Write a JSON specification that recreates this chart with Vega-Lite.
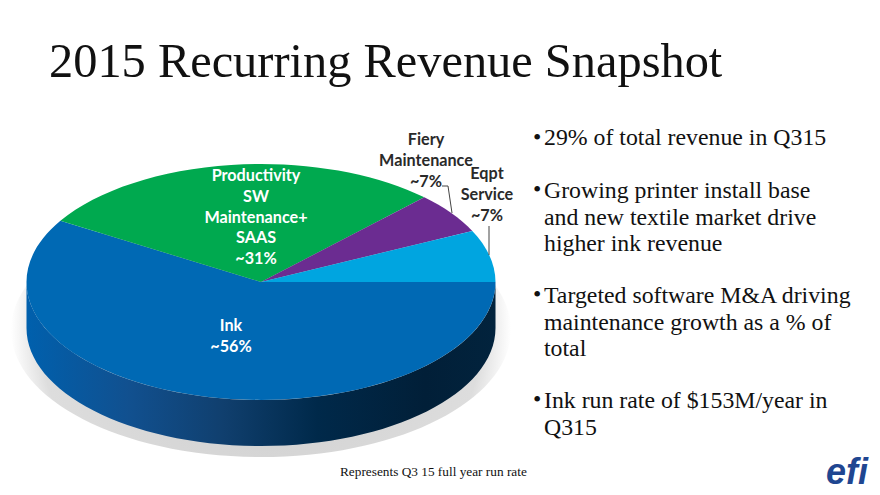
{
"$schema":"https://vega.github.io/schema/vega-lite/v6.json",
"width":880,"height":495,"padding":0,
"autosize":{"type":"none"},
"background":"white",
"config":{"view":{"stroke":null},"axis":{"disable":true},"legend":{"disable":true}},
"resolve":{"scale":{"shape":"independent","fill":"independent"}},
"layer":[
{"data":{"values":[{"part":"shadow"}]},
 "mark":{"type":"point","filled":true,"opacity":1,"size":4,"shape":"M-250,0 A250,127 0 1 1 250,0 A250,127 0 1 1 -250,0 Z","fill":{"gradient":"radial","x1":0.5,"y1":0.5,"r1":0,"x2":0.5,"y2":0.5,"r2":0.5,"stops":[{"offset":0,"color":"#cccccc"},{"offset":0.88,"color":"#dddddd"},{"offset":1,"color":"#ffffff"}]}},
 "encoding":{"x":{"datum":261,"type":"quantitative","scale":{"domain":[0,880],"range":[0,880],"nice":false},"axis":null},"y":{"datum":330,"type":"quantitative","scale":{"domain":[0,495],"range":[0,495],"nice":false},"axis":null}}},
{"data":{"values":[{"part":"side"}]},
 "mark":{"type":"point","filled":true,"opacity":1,"size":4,"shape":"M-234.5,0 A234.5,118 0 0 0 234.5,0 L234.5,46 A234.5,118 0 0 1 -234.5,46 Z","fill":{"gradient":"linear","x1":0,"y1":0,"x2":1,"y2":0,"stops":[{"offset":0,"color":"#0060ad"},{"offset":0.22,"color":"#11508f"},{"offset":0.42,"color":"#103f6e"},{"offset":0.62,"color":"#00294a"},{"offset":0.85,"color":"#011f38"},{"offset":1,"color":"#02233d"}]}},
 "encoding":{"x":{"datum":261,"type":"quantitative","axis":null},"y":{"datum":282,"type":"quantitative","axis":null}}},
{"data":{"values":[{"segment":"Ink","share":56},{"segment":"Productivity SW Maintenance+ SAAS","share":31},{"segment":"Fiery Maintenance","share":7},{"segment":"Eqpt Service","share":7}]},
 "mark":{"type":"point","filled":true,"opacity":1,"size":4},
 "encoding":{"x":{"datum":261,"type":"quantitative","axis":null},"y":{"datum":282,"type":"quantitative","axis":null},
  "shape":{"field":"segment","type":"nominal","legend":null,"scale":{"domain":["Ink","Productivity SW Maintenance+ SAAS","Fiery Maintenance","Eqpt Service"],"range":["M0,0 L-200.6,-61.2 A234.5,118 0 1 0 234.5,0 Z","M0,0 L-200.6,-61.2 A234.5,118 0 0 1 163.3,-84.7 Z","M0,0 L163.3,-84.7 A234.5,118 0 0 1 211.3,-51.1 Z","M0,0 L211.3,-51.1 A234.5,118 0 0 1 234.5,0 Z"]}},
  "fill":{"field":"segment","type":"nominal","legend":null,"scale":{"domain":["Ink","Productivity SW Maintenance+ SAAS","Fiery Maintenance","Eqpt Service"],"range":["#0069b4","#00a94f","#6b2c91","#00a5e0"]}},
  "tooltip":{"field":"share","type":"quantitative"}}},
{"data":{"values":[{"leader":"Fiery Maintenance"},{"leader":"Eqpt Service"}]},
 "mark":{"type":"point","filled":false,"opacity":1,"size":4,"strokeWidth":1,"stroke":"#444444"},
 "encoding":{"x":{"datum":0,"type":"quantitative","axis":null},"y":{"datum":0,"type":"quantitative","axis":null},
  "shape":{"field":"leader","type":"nominal","legend":null,"scale":{"domain":["Fiery Maintenance","Eqpt Service"],"range":["M442,186 L448,186 L452,213","M489,226 L489,255"]}}}},
{"data":{"values":[{"t":"2015 Recurring Revenue Snapshot"}]},
 "mark":{"type":"text","font":"Liberation Serif","fontSize":48.4,"align":"left","baseline":"alphabetic","color":"#111111"},
 "encoding":{"text":{"field":"t"},"x":{"datum":49,"type":"quantitative","axis":null},"y":{"datum":77,"type":"quantitative","axis":null}}},
{"data":{"values":[{"t":["Productivity","SW","Maintenance+","SAAS","~31%"]}]},
 "mark":{"type":"text","font":"Lato","fontWeight":"bold","fontSize":16.2,"lineHeight":20.8,"align":"center","baseline":"alphabetic","color":"#ffffff"},
 "encoding":{"text":{"field":"t"},"x":{"datum":256,"type":"quantitative","axis":null},"y":{"datum":181,"type":"quantitative","axis":null}}},
{"data":{"values":[{"t":["Ink","~56%"]}]},
 "mark":{"type":"text","font":"Lato","fontWeight":"bold","fontSize":16.2,"lineHeight":20.8,"align":"center","baseline":"alphabetic","color":"#ffffff"},
 "encoding":{"text":{"field":"t"},"x":{"datum":231,"type":"quantitative","axis":null},"y":{"datum":331,"type":"quantitative","axis":null}}},
{"data":{"values":[{"t":["Fiery","Maintenance","~7%"]}]},
 "mark":{"type":"text","font":"Lato","fontWeight":"bold","fontSize":16.2,"lineHeight":20.8,"align":"center","baseline":"alphabetic","color":"#2a2a2a"},
 "encoding":{"text":{"field":"t"},"x":{"datum":426,"type":"quantitative","axis":null},"y":{"datum":145,"type":"quantitative","axis":null}}},
{"data":{"values":[{"t":["Eqpt","Service","~7%"]}]},
 "mark":{"type":"text","font":"Lato","fontWeight":"bold","fontSize":16.2,"lineHeight":20.8,"align":"center","baseline":"alphabetic","color":"#2a2a2a"},
 "encoding":{"text":{"field":"t"},"x":{"datum":487,"type":"quantitative","axis":null},"y":{"datum":179,"type":"quantitative","axis":null}}},
{"data":{"values":[{"t":"29% of total revenue in Q315"}]},
 "mark":{"type":"text","font":"Liberation Serif","fontSize":23.8,"lineHeight":26.5,"align":"left","baseline":"alphabetic","color":"#111111"},
 "encoding":{"text":{"field":"t"},"x":{"datum":544,"type":"quantitative","axis":null},"y":{"datum":145,"type":"quantitative","axis":null}}},
{"data":{"values":[{"t":["Growing printer install base","and new textile market drive","higher ink revenue"]}]},
 "mark":{"type":"text","font":"Liberation Serif","fontSize":23.8,"lineHeight":26.5,"align":"left","baseline":"alphabetic","color":"#111111"},
 "encoding":{"text":{"field":"t"},"x":{"datum":544,"type":"quantitative","axis":null},"y":{"datum":198,"type":"quantitative","axis":null}}},
{"data":{"values":[{"t":["Targeted software M&A driving","maintenance growth as a % of","total"]}]},
 "mark":{"type":"text","font":"Liberation Serif","fontSize":23.8,"lineHeight":26.5,"align":"left","baseline":"alphabetic","color":"#111111"},
 "encoding":{"text":{"field":"t"},"x":{"datum":544,"type":"quantitative","axis":null},"y":{"datum":303,"type":"quantitative","axis":null}}},
{"data":{"values":[{"t":["Ink run rate of $153M/year in","Q315"]}]},
 "mark":{"type":"text","font":"Liberation Serif","fontSize":23.8,"lineHeight":26.5,"align":"left","baseline":"alphabetic","color":"#111111"},
 "encoding":{"text":{"field":"t"},"x":{"datum":544,"type":"quantitative","axis":null},"y":{"datum":408,"type":"quantitative","axis":null}}},
{"data":{"values":[{"t":"•"}]},
 "mark":{"type":"text","font":"Liberation Serif","fontSize":23.8,"align":"left","baseline":"alphabetic","color":"#111111"},
 "encoding":{"text":{"field":"t"},"x":{"datum":533,"type":"quantitative","axis":null},"y":{"datum":145,"type":"quantitative","axis":null}}},
{"data":{"values":[{"t":"•"}]},
 "mark":{"type":"text","font":"Liberation Serif","fontSize":23.8,"align":"left","baseline":"alphabetic","color":"#111111"},
 "encoding":{"text":{"field":"t"},"x":{"datum":533,"type":"quantitative","axis":null},"y":{"datum":197,"type":"quantitative","axis":null}}},
{"data":{"values":[{"t":"•"}]},
 "mark":{"type":"text","font":"Liberation Serif","fontSize":23.8,"align":"left","baseline":"alphabetic","color":"#111111"},
 "encoding":{"text":{"field":"t"},"x":{"datum":533,"type":"quantitative","axis":null},"y":{"datum":302,"type":"quantitative","axis":null}}},
{"data":{"values":[{"t":"•"}]},
 "mark":{"type":"text","font":"Liberation Serif","fontSize":23.8,"align":"left","baseline":"alphabetic","color":"#111111"},
 "encoding":{"text":{"field":"t"},"x":{"datum":533,"type":"quantitative","axis":null},"y":{"datum":407,"type":"quantitative","axis":null}}},
{"data":{"values":[{"t":"Represents Q3 15 full year run rate"}]},
 "mark":{"type":"text","font":"Liberation Serif","fontSize":13.3,"align":"left","baseline":"alphabetic","color":"#111111"},
 "encoding":{"text":{"field":"t"},"x":{"datum":340,"type":"quantitative","axis":null},"y":{"datum":476,"type":"quantitative","axis":null}}},
{"data":{"values":[{"t":"efi"}]},
 "mark":{"type":"text","font":"Liberation Sans","fontWeight":"bold","fontStyle":"italic","fontSize":36,"align":"left","baseline":"alphabetic","color":"#1f4691"},
 "encoding":{"text":{"field":"t"},"x":{"datum":826,"type":"quantitative","axis":null},"y":{"datum":484,"type":"quantitative","axis":null}}}
]
}
